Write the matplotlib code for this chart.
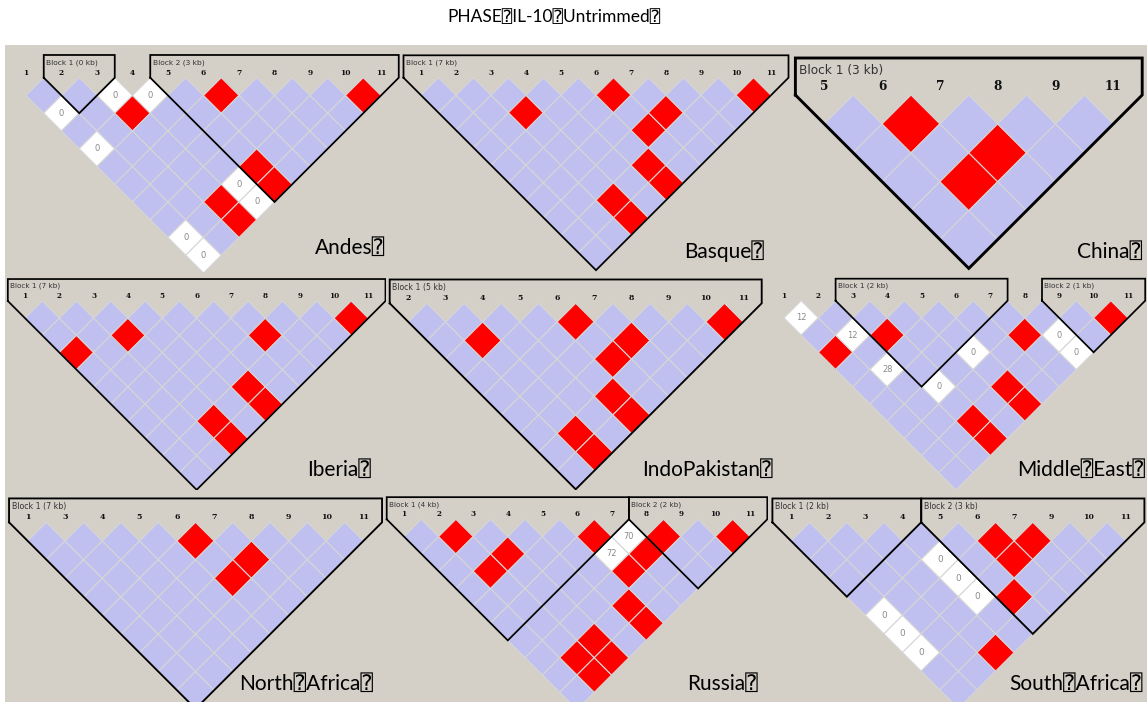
import matplotlib
matplotlib.use('Agg')
import matplotlib.pyplot as plt
from matplotlib.patches import Polygon, Rectangle

W, H = 1147, 702
BG = '#d4d0c8'
BLUE = '#c0c0f0'
RED = '#ff0000'
GAP = '#d6d6d6'
NUM = '#8a8a8a'
TOFU = '\u2370'

title = 'PHASE' + TOFU + 'IL-10' + TOFU + 'Untrimmed' + TOFU

# ---- LD data per population ------------------------------------------------
# markers: SNP numbers shown on top; red: D'=1 with LOD>=2;
# dprime: pairs with D'<1 and LOD<2 (D' in %); every other pair is D'=1, LOD<2
andes_markers = [1, 2, 3, 4, 5, 6, 7, 8, 9, 10, 11]
andes_red = [(6, 7), (10, 11), (3, 5), (5, 10), (5, 11), (3, 10), (3, 11)]
andes_dprime = {(3, 4): 0, (4, 5): 0, (1, 3): 0, (1, 5): 0, (4, 10): 0,
                (4, 11): 0, (1, 10): 0, (1, 11): 0}
andes_blocks = [(2, 3, 'Block 1 (0 kb)'), (5, 11, 'Block 2 (3 kb)')]

basque_markers = [1, 2, 3, 4, 5, 6, 7, 8, 9, 10, 11]
basque_red = [(6, 7), (10, 11), (3, 5), (7, 9), (6, 9), (5, 10), (5, 11),
              (3, 10), (3, 11)]
basque_dprime = {}
basque_blocks = [(1, 11, 'Block 1 (7 kb)')]

china_markers = [5, 6, 7, 8, 9, 11]
china_red = [(6, 7), (7, 9), (6, 9)]
china_dprime = {}
china_blocks = [(5, 11, 'Block 1 (3 kb)')]

iberia_markers = [1, 2, 3, 4, 5, 6, 7, 8, 9, 10, 11]
iberia_red = [(10, 11), (3, 5), (7, 9), (1, 4), (5, 10), (5, 11), (3, 10),
              (3, 11)]
iberia_dprime = {}
iberia_blocks = [(1, 11, 'Block 1 (7 kb)')]

indopak_markers = [2, 3, 4, 5, 6, 7, 8, 9, 10, 11]
indopak_red = [(6, 7), (10, 11), (3, 5), (7, 9), (6, 9), (5, 10), (5, 11),
               (3, 10), (3, 11)]
indopak_dprime = {}
indopak_blocks = [(2, 11, 'Block 1 (5 kb)')]

mideast_markers = [1, 2, 3, 4, 5, 6, 7, 8, 9, 10, 11]
mideast_red = [(10, 11), (3, 5), (7, 9), (1, 4), (5, 10), (5, 11), (3, 10),
               (3, 11)]
mideast_dprime = {(1, 2): 12, (2, 4): 12, (8, 10): 0, (5, 8): 0, (8, 11): 0,
                  (2, 6): 28, (3, 8): 0}
mideast_blocks = [(3, 7, 'Block 1 (2 kb)'), (9, 11, 'Block 2 (1 kb)')]

nafrica_markers = [1, 3, 4, 5, 6, 7, 8, 9, 10, 11]
nafrica_red = [(6, 7), (7, 9), (6, 9)]
nafrica_dprime = {}
nafrica_blocks = [(1, 11, 'Block 1 (7 kb)')]

russia_markers = [1, 2, 3, 4, 5, 6, 7, 8, 9, 10, 11]
russia_red = [(2, 3), (6, 7), (8, 9), (10, 11), (3, 5), (7, 9), (2, 5),
              (6, 9), (5, 10), (5, 11), (3, 10), (2, 10), (3, 11), (2, 11)]
russia_dprime = {(7, 8): 70, (6, 8): 72}
russia_blocks = [(1, 7, 'Block 1 (4 kb)'), (8, 11, 'Block 2 (2 kb)')]

safrica_markers = [1, 2, 3, 4, 5, 6, 7, 9, 10, 11]
safrica_red = [(6, 7), (7, 9), (6, 9), (5, 10), (3, 11)]
safrica_dprime = {(4, 6): 0, (4, 7): 0, (4, 9): 0, (1, 6): 0, (1, 7): 0,
                  (1, 9): 0}
safrica_blocks = [(1, 4, 'Block 1 (2 kb)'), (5, 11, 'Block 2 (3 kb)')]

populations = ['Andes', 'Basque', 'China', 'Iberia', 'IndoPakistan',
               'Middle East', 'North Africa', 'Russia', 'South Africa']
panel_data = [
    (andes_markers, andes_red, andes_dprime, andes_blocks),
    (basque_markers, basque_red, basque_dprime, basque_blocks),
    (china_markers, china_red, china_dprime, china_blocks),
    (iberia_markers, iberia_red, iberia_dprime, iberia_blocks),
    (indopak_markers, indopak_red, indopak_dprime, indopak_blocks),
    (mideast_markers, mideast_red, mideast_dprime, mideast_blocks),
    (nafrica_markers, nafrica_red, nafrica_dprime, nafrica_blocks),
    (russia_markers, russia_red, russia_dprime, russia_blocks),
    (safrica_markers, safrica_red, safrica_dprime, safrica_blocks),
]

# ---- layout (pixels): panel box, first marker x, top of diamonds y, spacing,
#      caption anchor (right edge, vertical centre)
layout = [
    dict(box=(5, 45, 400, 272), x0=26.0, y0=77.7, s=35.5, cap=(385, 248)),
    dict(box=(400, 45, 790, 272), x0=421.0, y0=77.7, s=35.0, cap=(764, 251)),
    dict(box=(790, 45, 1147, 272), x0=824.3, y0=95.0, s=57.8, cap=(1142, 252)),
    dict(box=(5, 272, 386, 490), x0=25.0, y0=301.0, s=34.33, cap=(371, 470)),
    dict(box=(386, 272, 772, 490), x0=408.3, y0=303.3, s=37.2, cap=(773, 470)),
    dict(box=(772, 272, 1147, 490), x0=784.0, y0=300.7, s=34.4, cap=(1145, 470)),
    dict(box=(5, 490, 384, 702), x0=27.7, y0=522.3, s=37.3, cap=(373, 684)),
    dict(box=(384, 490, 768, 702), x0=404.0, y0=519.3, s=34.6, cap=(758, 684)),
    dict(box=(768, 490, 1147, 702), x0=791.0, y0=522.3, s=37.2, cap=(1143, 684)),
]

PT = 72.0 / 100.0  # points per pixel at dpi=100

fig = plt.figure(figsize=(W / 100, H / 100), dpi=100)
fig.patch.set_facecolor('white')
fig.add_artist(Rectangle((5 / W, 0), (W - 5) / W, (H - 45) / H,
                         transform=fig.transFigure, fc=BG, ec='none', zorder=0))


def draw_ld(ax, markers, red, dprime, blocks, s):
    n = len(markers)
    idx = {m: k for k, m in enumerate(markers)}
    red_set = set(red)
    for i in range(n):
        for j in range(i + 1, n):
            pair = (markers[i], markers[j])
            cx, cy = (i + j) / 2, -(j - i) / 2
            if pair in dprime:
                fc = 'white'
            elif pair in red_set:
                fc = RED
            else:
                fc = BLUE
            ax.add_patch(Polygon([(cx - 0.5, cy), (cx, cy + 0.5),
                                  (cx + 0.5, cy), (cx, cy - 0.5)],
                                 closed=True, fc=fc, ec=GAP, lw=0.8))
            if pair in dprime:
                ax.text(cx, cy, str(dprime[pair]), ha='center', va='center',
                        color=NUM, fontsize=0.24 * s * PT,
                        family='DejaVu Sans')
    for k, m in enumerate(markers):
        ax.text(k, 0.14, str(m), ha='center', va='center',
                fontsize=0.21 * s * PT, fontweight='bold', family='DejaVu Serif',
                color='#111111')
    for a, b, label in blocks:
        ia, ib = idx[a], idx[b]
        xs = [ia - 0.5, ia - 0.5, ib + 0.5, ib + 0.5, (ia + ib) / 2, ia - 0.5]
        ys = [0.0, 0.64, 0.64, 0.0, -((ib - ia) / 2 + 0.5), 0.0]
        ax.plot(xs, ys, color='black', lw=0.05 * s * PT,
                solid_joinstyle='miter', zorder=5)
        ax.text(ia - 0.5 + 0.07, 0.43, label, ha='left', va='center',
                fontsize=0.21 * s * PT, family='DejaVu Sans', color='#333333')


for name, data, lay in zip(populations, panel_data, layout):
    l, t, r, b = lay['box']
    x0, y0, s = lay['x0'], lay['y0'], lay['s']
    ax = fig.add_axes([l / W, 1 - b / H, (r - l) / W, (b - t) / H])
    ax.set_xlim((l - x0) / s, (r - x0) / s)
    ax.set_ylim((y0 - b) / s, (y0 - t) / s)
    ax.axis('off')
    ax.patch.set_alpha(0)
    draw_ld(ax, *data, s)
    cx, cy = lay['cap']
    fig.text(cx / W, 1 - cy / H, name.replace(' ', TOFU) + TOFU,
             ha='right', va='center', fontsize=15,
             family=['Lato', 'DejaVu Sans', 'DejaVu Sans Mono'], color='black')

fig.text(554 / W, 1 - 17 / H, title, ha='center', va='center', fontsize=12.5,
         family=['Lato', 'DejaVu Sans', 'DejaVu Sans Mono'], color='black')

fig.savefig('out.png', dpi=100, facecolor='white')
